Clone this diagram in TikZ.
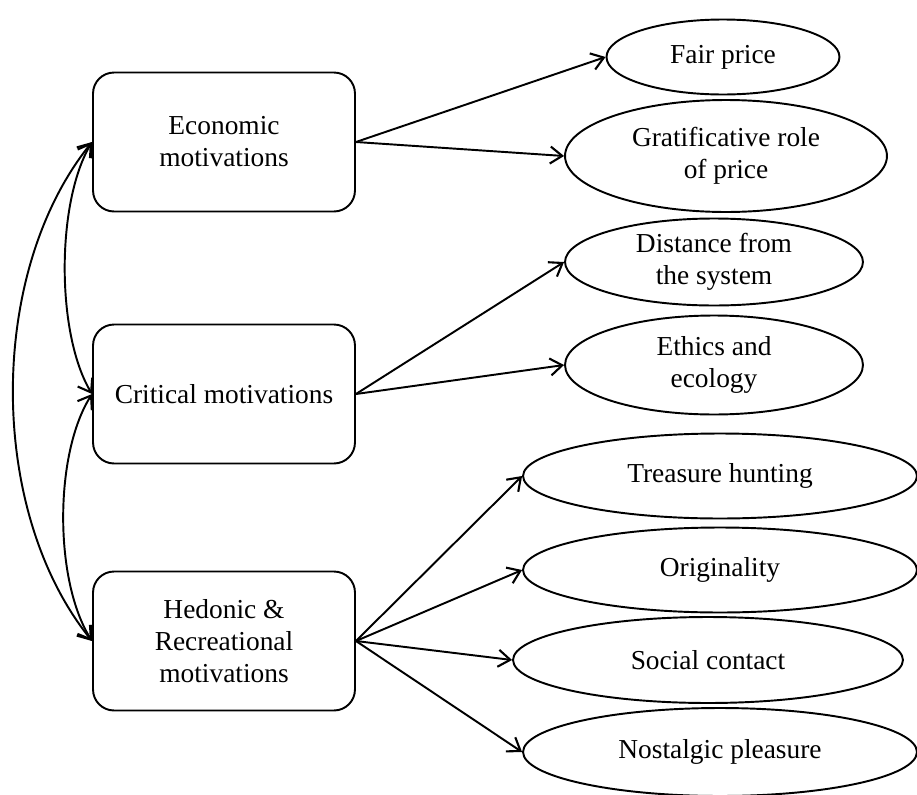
\documentclass[tikz,border=0pt]{standalone}
\usepackage{fontspec}
\setmainfont{Liberation Serif}
\usetikzlibrary{arrows.meta}
\usetikzlibrary{shapes.geometric}

\begin{document}
\begin{tikzpicture}[line cap=round,line join=round,>={Straight Barb[length=2.4mm,width=3.4mm,line width=1.2pt]},x=0.02cm,y=-0.02cm,
  motive/.style={draw,line width=1.1pt,rounded corners=0.42cm,minimum width=5.24cm,minimum height=2.78cm,align=center,font=\fontsize{15.6}{18.2}\selectfont},
  factor/.style={draw,ellipse,line width=1.1pt,inner sep=0pt,align=center,font=\fontsize{15.6}{18.2}\selectfont},
  link/.style={->,line width=1.1pt}]
\useasboundingbox (0,0) rectangle (917,795);
% motivations
\node[motive] (eco) at (224,142) {Economic\\motivations};
\node[motive] (crit) at (224,394) {Critical motivations};
\node[motive] (hed) at (224,641) {Hedonic \&\\Recreational\\motivations};
% factors
\node[factor,minimum width=4.66cm,minimum height=1.5cm] (fair) at (723,57) {Fair price};
\node[factor,minimum width=6.44cm,minimum height=2.24cm] (grat) at (726,156) {Gratificative role\\of price};
\node[factor,minimum width=5.96cm,minimum height=1.74cm] (dist) at (714,262) {Distance from\\the system};
\node[factor,minimum width=5.96cm,minimum height=1.98cm] (eth) at (714,365) {Ethics and\\ecology};
\node[factor,minimum width=7.88cm,minimum height=1.7cm] (tre) at (720,476) {Treasure hunting};
\node[factor,minimum width=7.88cm,minimum height=1.7cm] (ori) at (720,570) {Originality};
\node[factor,minimum width=7.8cm,minimum height=1.72cm] (soc) at (708,660) {Social contact};
\node[factor,minimum width=7.88cm,minimum height=1.76cm] (nos) at (720,752) {Nostalgic pleasure};
% links
\draw[link] (eco.east) -- (fair.west);
\draw[link] (eco.east) -- (grat.west);
\draw[link] (crit.east) -- (dist.west);
\draw[link] (crit.east) -- (eth.west);
\draw[link] (hed.east) -- (tre.west);
\draw[link] (hed.east) -- (ori.west);
\draw[link] (hed.east) -- (soc.west);
\draw[link] (hed.east) -- (nos.west);
% correlations
\draw[<->,line width=1.1pt] (eco.west) .. controls +(-105,130) and +(-105,-130) .. (hed.west);
\draw[<->,line width=1.1pt] (eco.west) .. controls +(-36,60) and +(-36,-60) .. (crit.west);
\draw[<->,line width=1.1pt] (crit.west) .. controls +(-38,60) and +(-38,-60) .. (hed.west);
\end{tikzpicture}
\end{document}
